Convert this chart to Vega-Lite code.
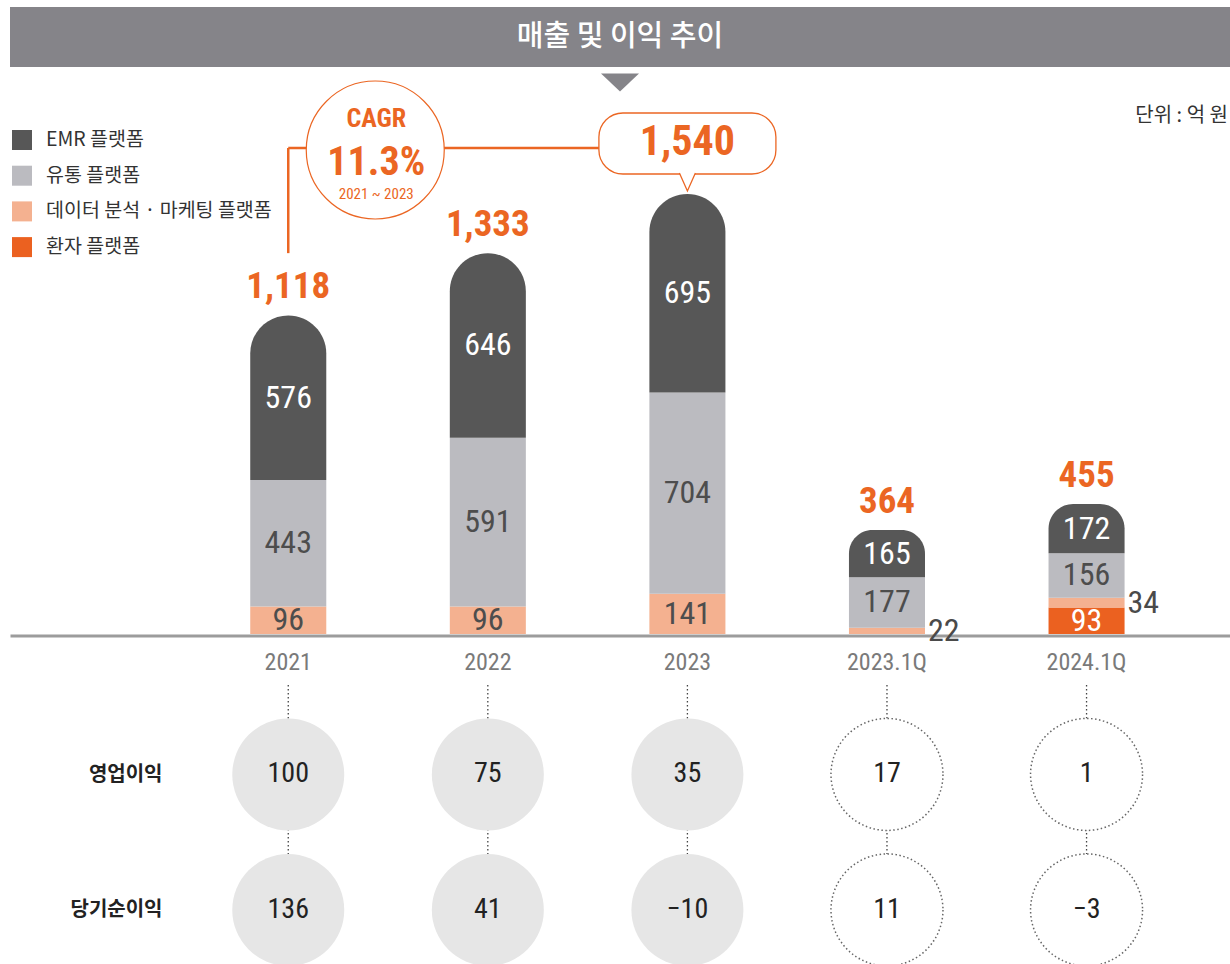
{
  "$schema": "https://vega.github.io/schema/vega-lite/v6.json",
  "padding": {"left": 10, "top": 7, "right": 0, "bottom": 0},
  "background": "white",
  "spacing": 0,
  "bounds": "flush",
  "config": {"view": {"stroke": null}, "font": "Noto Sans CJK KR", "axis": {"grid": false}},
  "datasets": {
    "title": [{"title": "매출 및 이익 추이"}],
    "segments": [
      {"cat": "2021", "segment": "데이터 분석 · 마케팅 플랫폼", "value": 96},
      {"cat": "2021", "segment": "유통 플랫폼", "value": 443},
      {"cat": "2021", "segment": "EMR 플랫폼", "value": 576},
      {"cat": "2022", "segment": "데이터 분석 · 마케팅 플랫폼", "value": 96},
      {"cat": "2022", "segment": "유통 플랫폼", "value": 591},
      {"cat": "2022", "segment": "EMR 플랫폼", "value": 646},
      {"cat": "2023", "segment": "데이터 분석 · 마케팅 플랫폼", "value": 141},
      {"cat": "2023", "segment": "유통 플랫폼", "value": 704},
      {"cat": "2023", "segment": "EMR 플랫폼", "value": 695},
      {"cat": "2023.1Q", "segment": "데이터 분석 · 마케팅 플랫폼", "value": 22},
      {"cat": "2023.1Q", "segment": "유통 플랫폼", "value": 177},
      {"cat": "2023.1Q", "segment": "EMR 플랫폼", "value": 165},
      {"cat": "2024.1Q", "segment": "환자 플랫폼", "value": 93},
      {"cat": "2024.1Q", "segment": "데이터 분석 · 마케팅 플랫폼", "value": 34},
      {"cat": "2024.1Q", "segment": "유통 플랫폼", "value": 156},
      {"cat": "2024.1Q", "segment": "EMR 플랫폼", "value": 172}
    ],
    "totals": [
      {"cat": "2021", "total": 1118},
      {"cat": "2022", "total": 1333},
      {"cat": "2023", "total": 1540},
      {"cat": "2023.1Q", "total": 364},
      {"cat": "2024.1Q", "total": 455}
    ],
    "profit": [
      {"cat": "2021", "metric": "영업이익", "value": 100, "period": "연간"},
      {"cat": "2022", "metric": "영업이익", "value": 75, "period": "연간"},
      {"cat": "2023", "metric": "영업이익", "value": 35, "period": "연간"},
      {"cat": "2023.1Q", "metric": "영업이익", "value": 17, "period": "분기"},
      {"cat": "2024.1Q", "metric": "영업이익", "value": 1, "period": "분기"},
      {"cat": "2021", "metric": "당기순이익", "value": 136, "period": "연간"},
      {"cat": "2022", "metric": "당기순이익", "value": 41, "period": "연간"},
      {"cat": "2023", "metric": "당기순이익", "value": -10, "period": "연간"},
      {"cat": "2023.1Q", "metric": "당기순이익", "value": 11, "period": "분기"},
      {"cat": "2024.1Q", "metric": "당기순이익", "value": -3, "period": "분기"}
    ],
    "cagr": [{"from": "2021", "to": "2023", "label": "CAGR", "rate": 0.113, "span": "2021 ~ 2023"}],
    "unit": [{"cat": "2024.1Q", "unit": "단위 : 억 원"}]
  },
  "vconcat": [
    {
      "width": 1220,
      "height": 60,
      "view": {"fill": "#858489", "stroke": null},
      "data": {"name": "title"},
      "layer": [
        {
          "mark": {"type": "text", "color": "white", "fontSize": 29, "font": "Noto Sans CJK KR", "fontWeight": 500, "baseline": "middle", "align": "center"},
          "encoding": {"text": {"field": "title", "type": "nominal"}}
        },
        {
          "mark": {"type": "point", "shape": "M-1,-0.47L1,-0.47L0,0.47Z", "size": 1444, "filled": true, "color": "#858489", "opacity": 1, "yOffset": 45.5},
          "encoding": {}
        }
      ]
    },
    {
      "width": 1220,
      "height": 613,
      "layer": [
        {
          "data": {"name": "totals"},
          "mark": {"type": "rule", "color": "#444444", "strokeWidth": 1.3, "strokeDash": [1.5, 2.5]},
          "encoding": {
            "x": {
              "field": "cat", "type": "nominal",
              "scale": {"type": "band", "domain": ["2021", "2022", "2023", "2023.1Q", "2024.1Q"], "paddingInner": 0.619, "paddingOuter": 0.866, "align": 0.695},
              "axis": {"title": null, "orient": "bottom", "offset": -44.5, "domainColor": "#9c9c9c", "domainWidth": 3, "domainCap": "butt", "ticks": false, "tickSize": 0, "labelPadding": 15, "labelFont": "Liberation Sans Narrow, Roboto Condensed, Roboto, sans-serif", "labelFontSize": 24, "labelColor": "#7a7a7a", "labelAngle": 0, "grid": false}
            },
            "y": {"datum": -178.5, "type": "quantitative", "scale": {"domain": [-161, 1984.5], "nice": false, "zero": false}, "axis": null},
            "y2": {"datum": -966}
          }
        },
        {
          "data": {"name": "segments"},
          "transform": [{"stack": "value", "groupby": ["cat"], "as": ["y0", "y1"]}],
          "layer": [
            {
              "transform": [{"filter": "datum.segment !== 'EMR 플랫폼'"}],
              "mark": {"type": "bar"},
              "encoding": {
                "x": {"field": "cat", "type": "nominal"},
                "y": {"field": "y1", "type": "quantitative", "axis": null},
                "y2": {"field": "y0"},
                "color": {
                  "field": "segment", "type": "nominal",
                  "scale": {"domain": ["EMR 플랫폼", "유통 플랫폼", "데이터 분석 · 마케팅 플랫폼", "환자 플랫폼"], "range": ["#575757", "#bbbbc0", "#f4b190", "#eb6120"]},
                  "legend": {"title": null, "orient": "none", "legendX": 2, "legendY": 123, "direction": "vertical", "symbolType": "square", "symbolSize": 400, "symbolStrokeWidth": 0, "symbolOpacity": 1, "labelFont": "Noto Sans CJK KR", "labelFontSize": 19.5, "labelColor": "#333333", "labelOffset": 14, "labelLimit": 400, "rowPadding": 15.7, "padding": 0}
                }
              }
            },
            {
              "transform": [{"filter": "datum.segment === 'EMR 플랫폼'"}],
              "mark": {"type": "bar", "cornerRadiusTopLeft": 38, "cornerRadiusTopRight": 38},
              "encoding": {
                "x": {"field": "cat", "type": "nominal"},
                "y": {"field": "y1", "type": "quantitative", "axis": null},
                "y2": {"field": "y0"},
                "color": {"field": "segment", "type": "nominal"}
              }
            },
            {
              "transform": [
                {"fold": ["y0", "y1"], "as": ["edge", "pos"]},
                {"aggregate": [{"op": "mean", "field": "pos", "as": "mid"}], "groupby": ["cat", "segment", "value"]}
              ],
              "layer": [
                {
                  "transform": [{"filter": "datum.value >= 50"}],
                  "mark": {"type": "text", "font": "Liberation Sans Narrow, Roboto Condensed, Roboto, sans-serif", "fontSize": 32, "baseline": "middle", "align": "center"},
                  "encoding": {
                    "x": {"field": "cat", "type": "nominal"},
                    "y": {"field": "mid", "type": "quantitative", "axis": null},
                    "text": {"field": "value", "type": "quantitative"},
                    "color": {"condition": {"test": "datum.segment === 'EMR 플랫폼' || datum.segment === '환자 플랫폼'", "value": "white"}, "value": "#4d4d4d"}
                  }
                },
                {
                  "transform": [{"filter": "datum.value < 50"}],
                  "mark": {"type": "text", "font": "Liberation Sans Narrow, Roboto Condensed, Roboto, sans-serif", "fontSize": 32, "baseline": "middle", "align": "left", "dx": 41, "color": "#4a4a4a"},
                  "encoding": {
                    "x": {"field": "cat", "type": "nominal"},
                    "y": {"field": "mid", "type": "quantitative", "axis": null},
                    "text": {"field": "value", "type": "quantitative"}
                  }
                }
              ]
            }
          ]
        },
        {
          "data": {"name": "totals"},
          "transform": [{"filter": "datum.cat !== '2023'"}],
          "mark": {"type": "text", "font": "Liberation Sans Narrow, Roboto Condensed, Roboto, sans-serif", "fontWeight": "bold", "fontSize": 37, "color": "#eb6623", "baseline": "alphabetic", "align": "center", "dy": -17},
          "encoding": {
            "x": {"field": "cat", "type": "nominal"},
            "y": {"field": "total", "type": "quantitative", "axis": null},
            "text": {"field": "total", "type": "quantitative", "format": ","}
          }
        },
        {
          "data": {"name": "cagr"},
          "layer": [
            {
              "mark": {"type": "rule", "color": "#eb6623", "strokeWidth": 2.5},
              "encoding": {
                "x": {"field": "from", "type": "nominal", "bandPosition": 0.5},
                "y": {"datum": 1701, "type": "quantitative", "axis": null},
                "y2": {"datum": 1333}
              }
            },
            {
              "mark": {"type": "rule", "color": "#eb6623", "strokeWidth": 2.5},
              "encoding": {
                "x": {"field": "from", "type": "nominal", "bandPosition": 0.5},
                "x2": {"field": "to"},
                "y": {"datum": 1701, "type": "quantitative", "axis": null}
              }
            },
            {
              "mark": {"type": "point", "shape": "circle", "size": 19044, "filled": true, "fill": "white", "stroke": "#eb6623", "strokeWidth": 1.2, "opacity": 1, "xOffset": 87},
              "encoding": {
                "x": {"field": "from", "type": "nominal"},
                "y": {"datum": 1694, "type": "quantitative", "axis": null}
              }
            },
            {
              "mark": {"type": "text", "font": "Liberation Sans Narrow, Roboto Condensed, Roboto, sans-serif", "fontWeight": "bold", "fontSize": 26, "color": "#eb6623", "baseline": "alphabetic", "align": "center", "dx": 88},
              "encoding": {
                "x": {"field": "from", "type": "nominal"},
                "y": {"datum": 1774.5, "type": "quantitative", "axis": null},
                "text": {"field": "label", "type": "nominal"}
              }
            },
            {
              "mark": {"type": "text", "font": "Liberation Sans Narrow, Roboto Condensed, Roboto, sans-serif", "fontWeight": "bold", "fontSize": 40, "color": "#eb6623", "baseline": "alphabetic", "align": "center", "dx": 88},
              "encoding": {
                "x": {"field": "from", "type": "nominal"},
                "y": {"datum": 1606.5, "type": "quantitative", "axis": null},
                "text": {"field": "rate", "type": "quantitative", "format": ".1%"}
              }
            },
            {
              "mark": {"type": "text", "font": "Liberation Sans Narrow, Roboto Condensed, Roboto, sans-serif", "fontSize": 15, "color": "#eb6623", "baseline": "alphabetic", "align": "center", "dx": 88},
              "encoding": {
                "x": {"field": "from", "type": "nominal"},
                "y": {"datum": 1522.5, "type": "quantitative", "axis": null},
                "text": {"field": "span", "type": "nominal"}
              }
            }
          ]
        },
        {
          "data": {"name": "totals"},
          "transform": [{"filter": "datum.cat === '2023'"}],
          "layer": [
            {
              "mark": {"type": "bar", "width": 177, "cornerRadius": 24, "fill": "white", "stroke": "#eb6623", "strokeWidth": 1.3},
              "encoding": {
                "x": {"field": "cat", "type": "nominal"},
                "y": {"datum": 1823.5, "type": "quantitative", "axis": null},
                "y2": {"datum": 1610}
              }
            },
            {
              "mark": {"type": "point", "shape": "M-1,-1.25L0,1L1,-1.25", "size": 256, "filled": true, "fill": "white", "stroke": "#eb6623", "strokeWidth": 1.3, "opacity": 1},
              "encoding": {
                "x": {"field": "cat", "type": "nominal"},
                "y": {"datum": 1578.5, "type": "quantitative", "axis": null}
              }
            },
            {
              "mark": {"type": "text", "font": "Liberation Sans Narrow, Roboto Condensed, Roboto, sans-serif", "fontWeight": "bold", "fontSize": 42, "color": "#eb6623", "baseline": "alphabetic", "align": "center"},
              "encoding": {
                "x": {"field": "cat", "type": "nominal"},
                "y": {"datum": 1676.5, "type": "quantitative", "axis": null},
                "text": {"field": "total", "type": "quantitative", "format": ","}
              }
            }
          ]
        },
        {
          "data": {"name": "unit"},
          "mark": {"type": "text", "font": "Noto Sans CJK KR", "fontSize": 20, "color": "#333333", "baseline": "middle", "align": "right", "dx": 141.4},
          "encoding": {
            "x": {"field": "cat", "type": "nominal"},
            "y": {"datum": 1813, "type": "quantitative", "axis": null},
            "text": {"field": "unit", "type": "nominal"}
          }
        }
      ]
    },
    {
      "width": 1220,
      "height": 284,
      "data": {"name": "profit"},
      "encoding": {
        "x": {
          "field": "cat", "type": "nominal",
          "scale": {"type": "band", "domain": ["2021", "2022", "2023", "2023.1Q", "2024.1Q"], "paddingInner": 0.619, "paddingOuter": 0.866, "align": 0.695},
          "axis": null
        },
        "y": {
          "field": "metric", "type": "nominal",
          "scale": {"type": "point", "domain": ["영업이익", "당기순이익"], "padding": 0.548, "align": 0.636},
          "axis": {"orient": "left", "offset": -160, "title": null, "domain": false, "ticks": false, "tickSize": 0, "labelPadding": 8, "labelFont": "Noto Sans CJK KR", "labelFontSize": 20, "labelFontWeight": "bold", "labelColor": "#222222", "grid": false}
        }
      },
      "layer": [
        {
          "transform": [{"filter": {"field": "period", "equal": "연간"}}],
          "mark": {"type": "point", "shape": "circle", "size": 12544, "filled": true, "color": "#e6e6e6", "opacity": 1}
        },
        {
          "transform": [{"filter": {"field": "period", "equal": "분기"}}],
          "mark": {"type": "point", "shape": "circle", "size": 12544, "filled": true, "fill": "white", "stroke": "#666666", "strokeWidth": 1.5, "strokeDash": [1.5, 2.5], "opacity": 1}
        },
        {
          "mark": {"type": "text", "font": "Liberation Sans Narrow, Roboto Condensed, Roboto, sans-serif", "fontSize": 28, "color": "#222222", "baseline": "middle", "align": "center"},
          "encoding": {"text": {"field": "value", "type": "quantitative"}}
        }
      ]
    }
  ]
}
